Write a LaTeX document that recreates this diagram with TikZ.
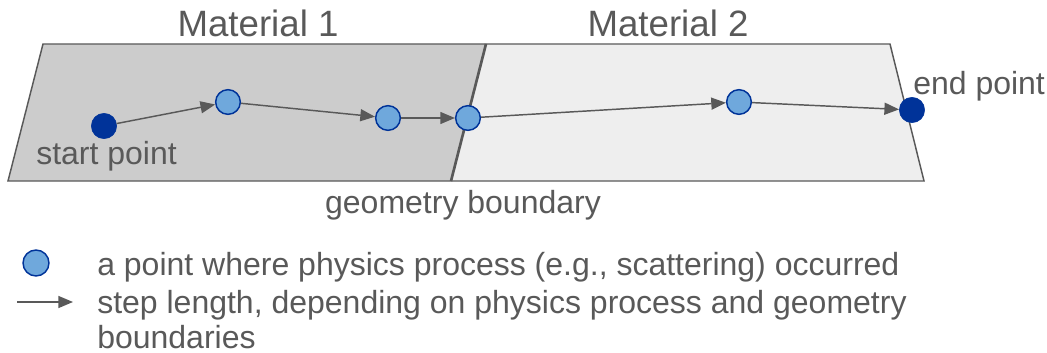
\documentclass[tikz,border=0pt]{standalone}
\usepackage{fontspec}
\setmainfont{Liberation Sans}
\usetikzlibrary{arrows.meta}
\definecolor{txt}{HTML}{595959}
\definecolor{mone}{HTML}{CCCCCC}
\definecolor{mtwo}{HTML}{EEEEEE}
\definecolor{dblue}{HTML}{003399}
\definecolor{lblue}{HTML}{6FA8DC}
\tikzset{
  ptend/.style={circle, fill=dblue, draw=dblue, minimum size=19pt, inner sep=0pt},
  ptmid/.style={circle, fill=lblue, draw=dblue, line width=1.1pt, minimum size=18.5pt, inner sep=0pt},
  arr/.style={draw=txt, line width=1.1pt, -{Triangle[length=11pt,width=9pt]}},
  lbl/.style={text=txt, font=\fontsize{24}{28}\selectfont, inner sep=0pt},
  big/.style={text=txt, font=\fontsize{27.5}{32}\selectfont, inner sep=0pt},
}
\begin{document}
\begin{tikzpicture}[x=0.75pt,y=-0.75pt]
\useasboundingbox (0,0) rectangle (1047,353);
% materials
\fill[mone] (43,44) -- (486,44) -- (451,181) -- (8,181) -- cycle;
\fill[mtwo] (486,44) -- (890,44) -- (924,181) -- (451,181) -- cycle;
\draw[txt, line width=1.1pt, line join=miter] (486,44) -- (43,44) -- (8,181) -- (451,181);
\draw[txt, line width=1.1pt, line join=miter] (486,44) -- (890,44) -- (924,181) -- (451,181);
\draw[txt, line width=2pt] (486,44) -- (451,181);
% labels
\node[big, anchor=base] (m1) at (258,37) {Material 1};
\node[big, anchor=base] (m2) at (668,37) {Material 2};
\node[lbl, anchor=base west] (sp) at (36,165) {start point};
\node[lbl, anchor=base west] (ep) at (913,95) {end point};
\node[lbl, anchor=base] (gb) at (463,214) {geometry boundary};
% points
\node[ptend] (s) at (104,126) {};
\node[ptmid] (p1) at (228,102) {};
\node[ptmid] (p2) at (388,118) {};
\node[ptmid] (p3) at (468,118) {};
\node[ptmid] (p4) at (739,102) {};
\node[ptend] (e) at (912,110) {};
\draw[arr] (s) -- (p1);
\draw[arr] (p1) -- (p2);
\draw[arr] (p2) -- (p3);
\draw[arr] (p3) -- (p4);
\draw[arr] (p4) -- (e);
% legend
\node[ptmid, minimum size=19.5pt] (lp) at (36,263) {};
\coordinate (la) at (17,302);
\coordinate (lb) at (73,302);
\draw[arr] (la) -- (lb);
\node[lbl, anchor=base west] (t1) at (97,275) {a point where physics process (e.g., scattering) occurred};
\node[lbl, anchor=base west] (t2) at (97,313) {step length, depending on physics process and geometry};
\node[lbl, anchor=base west] (t3) at (97,348) {boundaries};
\end{tikzpicture}
\end{document}
